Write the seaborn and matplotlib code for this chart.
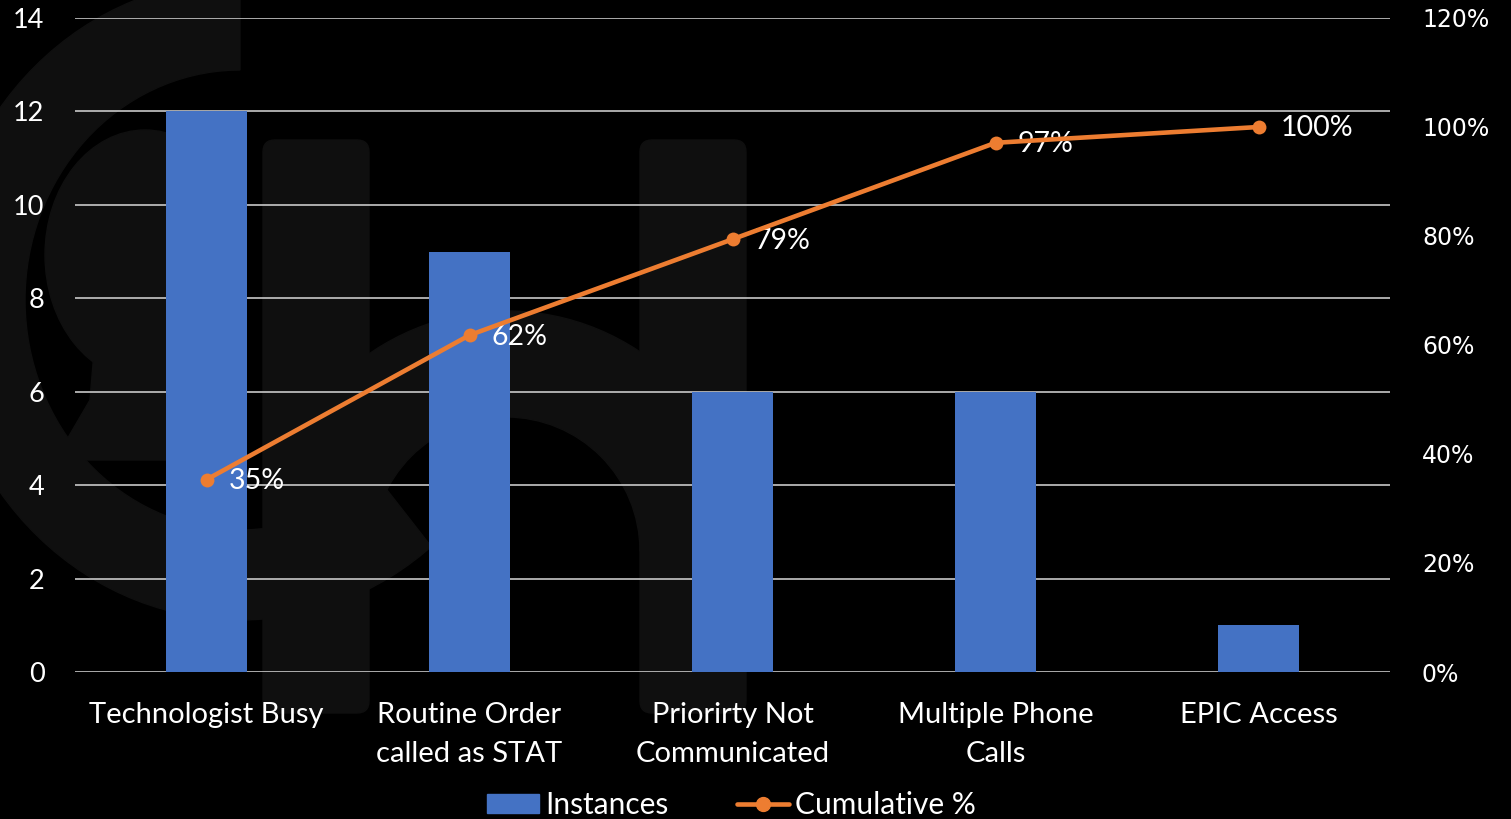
import numpy as np
import pandas as pd
import matplotlib
matplotlib.use("Agg")
import matplotlib.pyplot as plt
import matplotlib.patches as mpatches
from matplotlib.lines import Line2D
from matplotlib.transforms import IdentityTransform
from matplotlib.ticker import PercentFormatter
import seaborn as sns

# data
categories = ["Technologist Busy", "Routine Order\ncalled as STAT", "Priorirty Not\nCommunicated",
              "Multiple Phone\nCalls", "EPIC Access"]
instances = [12, 9, 6, 6, 1]
cumulative_pct = [35.3, 61.8, 79.4, 97.1, 100.0]
pct_labels = ["35%", "62%", "79%", "97%", "100%"]

BLUE = "#4472C4"
ORANGE = "#ED7D31"
GRID = "#D9D9D9"
W, H = 1511, 819

sns.set_theme(style="dark")
plt.rcParams["font.family"] = ["Lato", "DejaVu Sans"]
plt.rcParams["text.color"] = "white"

df = pd.DataFrame({"Cause": categories, "Instances": instances, "Cumulative": cumulative_pct})

fig = plt.figure(figsize=(W / 100, H / 100), dpi=100, facecolor="black")

# faint logo watermark in the background (pixel coords, top-left origin)
wm = "#0f0f0f"
def px(x, y):
    return (x, H - y)

# the "c": elliptical ring from the top round the left side
t = np.linspace(np.pi / 2, np.pi * 1.72, 80)
cx, cy = 240, 300
outer = [px(cx + 300 * np.cos(a), cy - 320 * np.sin(a)) for a in t]
inner = [px(cx + 215 * np.cos(a), cy - 230 * np.sin(a)) for a in t[::-1]]
fig.add_artist(mpatches.Polygon(outer + inner, color=wm, transform=IdentityTransform(), zorder=0))
# head silhouette inside it
fig.add_artist(mpatches.Ellipse(px(145, 255), 200, 250, color=wm,
                                transform=IdentityTransform(), zorder=0))
fig.add_artist(mpatches.Polygon([px(95, 340), px(215, 340), px(205, 400), px(225, 460),
                                 px(55, 460), px(90, 400)], color=wm,
                                transform=IdentityTransform(), zorder=0))
# the "h": two stems joined by an arch
for x0 in (263, 640):
    fig.add_artist(mpatches.FancyBboxPatch(px(x0, 713), 106, 573, boxstyle="round,pad=0,rounding_size=12",
                                           color=wm, transform=IdentityTransform(), zorder=0))
fig.add_artist(mpatches.Wedge(px(506, 551), 240, 0, 180, width=106, color=wm,
                              transform=IdentityTransform(), zorder=0))

ax = fig.add_axes([75 / W, 1 - 672 / H, (1390 - 75) / W, (672 - 18) / H])
ax.set_facecolor("none")
sns.barplot(data=df, x="Cause", y="Instances", color=BLUE, width=0.31, saturation=1,
            linewidth=0, ax=ax, zorder=3)
ax.set_xlim(-0.5, 4.5)
ax.set_ylim(0, 14)
ax.set_yticks(range(0, 15, 2))
ax.yaxis.grid(True, color=GRID, linewidth=1.1, zorder=0)
ax.xaxis.grid(False)
ax.set_axisbelow(True)
for s in ax.spines.values():
    s.set_visible(False)
ax.set_xlabel("")
ax.set_ylabel("")
ax.tick_params(axis="y", length=0, pad=22, labelsize=19.5, labelcolor="white")
ax.tick_params(axis="x", length=0, pad=21.5, labelsize=21, labelcolor="white")
for lab in ax.get_xticklabels():
    lab.set_linespacing(1.62)

ax2 = ax.twinx()
ax2.set_facecolor("none")
sns.lineplot(x=np.arange(len(categories)), y=df["Cumulative"], color=ORANGE, linewidth=3.3,
             marker="o", markersize=10, markeredgewidth=0, ax=ax2, zorder=5)
ax2.set_ylim(0, 120)
ax2.set_yticks(range(0, 121, 20))
ax2.yaxis.set_major_formatter(PercentFormatter(decimals=0))
ax2.grid(False)
for s in ax2.spines.values():
    s.set_visible(False)
ax2.set_ylabel("")
ax2.tick_params(axis="y", length=0, pad=23, labelsize=17, labelcolor="white")
for lab in ax2.get_yticklabels():
    lab.set_fontfamily("DejaVu Sans")

for i, (v, t) in enumerate(zip(cumulative_pct, pct_labels)):
    ax2.annotate(t, (i, v), xytext=(16, -1), textcoords="offset points", va="center", ha="left",
                 fontsize=20.5, color="white")

handles = [mpatches.Patch(color=BLUE, label="Instances"),
           Line2D([], [], color=ORANGE, linewidth=3.3, marker="o", markersize=10, label="Cumulative %")]
fig.legend(handles=handles, loc="lower center", bbox_to_anchor=(0.484, -0.033), ncol=2, frameon=False,
           fontsize=21.5, handlelength=1.75, handleheight=0.6, handletextpad=0.2, columnspacing=2.3,
           labelcolor="white")

fig.savefig("out.png", dpi=100, facecolor="black")
